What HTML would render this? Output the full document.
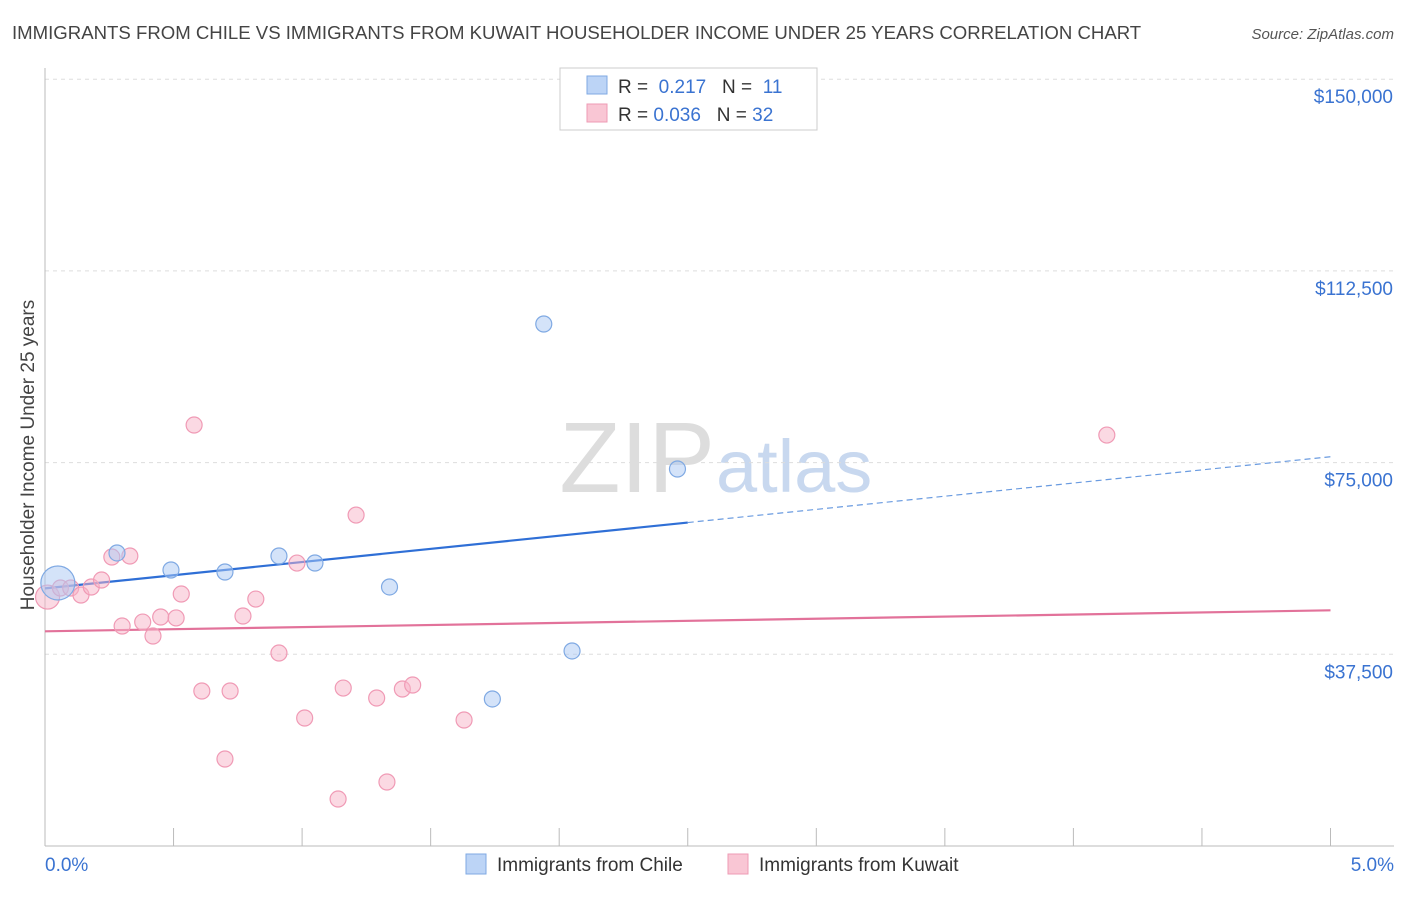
<!DOCTYPE html>
<html><head><meta charset="utf-8"><style>
body{margin:0;background:#fff;font-family:"Liberation Sans",sans-serif;}
svg text{font-family:"Liberation Sans",sans-serif;}
</style></head><body>
<svg id="chart" width="1406" height="892">
<text x="12" y="39" font-size="18.6" fill="#444">IMMIGRANTS FROM CHILE VS IMMIGRANTS FROM KUWAIT HOUSEHOLDER INCOME UNDER 25 YEARS CORRELATION CHART</text>
<text x="1394" y="39" font-size="15" fill="#555" font-style="italic" text-anchor="end">Source: ZipAtlas.com</text>
<text x="715" y="492" font-size="100" fill="#ddd" text-anchor="end" font-family="Liberation Serif">ZIP</text>
<text x="716" y="492" font-size="74" fill="#c8d8ef">atlas</text>
<g id="grid"></g><g id="axes"></g><g id="lines"></g><g id="pts"></g>
<text transform="translate(34,455) rotate(-90)" font-size="19" fill="#444" text-anchor="middle">Householder Income Under 25 years</text>
<g>
<rect x="560" y="68" width="257" height="62" fill="#fff" stroke="#ccc"/>
<rect x="587" y="76" width="20" height="18" fill="#bcd4f6" stroke="#7fa9e3"/>
<rect x="587" y="104" width="20" height="18" fill="#f9c6d4" stroke="#ee9bb4"/>
<text x="618" y="93" font-size="19" fill="#333">R = <tspan fill="#3a73d1">&#160;0.217</tspan>&#160;&#160;&#160;N = <tspan fill="#3a73d1">&#160;11</tspan></text>
<text x="618" y="121" font-size="19" fill="#333">R = <tspan fill="#3a73d1">0.036</tspan>&#160;&#160;&#160;N = <tspan fill="#3a73d1">32</tspan></text>
</g>
<g>
<rect x="466" y="854" width="20" height="20" fill="#bcd4f6" stroke="#7fa9e3"/>
<text x="497" y="871" font-size="19" fill="#333">Immigrants from Chile</text>
<rect x="728" y="854" width="20" height="20" fill="#f9c6d4" stroke="#ee9bb4"/>
<text x="759" y="871" font-size="19" fill="#333">Immigrants from Kuwait</text>
</g>
</svg>
<script>
const yTicks=[37500,75000,112500,150000];
const yTickLabels=["$37,500","$75,000","$112,500","$150,000"];
const xTickLabels=["0.0%","5.0%"];
const chileX=[0.05,0.28,0.49,0.70,0.91,1.05,1.34,1.94,2.05,2.46,1.74];
const chileY=[51450,57320,53990,53600,56730,55360,50670,102110,38150,73750,28760];
const kuwaitX=[0.01,0.06,0.10,0.14,0.18,0.22,0.26,0.30,0.33,0.38,0.42,0.45,0.51,0.53,0.58,0.61,0.70,0.72,0.77,0.82,0.91,0.98,1.01,1.14,1.16,1.21,1.29,1.33,1.39,1.43,1.63,4.13];
const kuwaitY=[48700,50470,50470,49100,50660,52030,56530,43030,56730,43810,41080,44800,44610,49290,82350,30320,17020,30320,44990,48310,37750,55350,25040,9190,30900,64740,28950,12520,30710,31490,24650,80390];
const chileTrend=[50400,76150];
const kuwaitTrend=[42000,46100];
const NS="http://www.w3.org/2000/svg";
const xs=v=>45+v*257.1, ys=v=>846-v/37500*191.7;
function mk(tag,at,parent){const e=document.createElementNS(NS,tag);for(const k in at)e.setAttribute(k,at[k]);document.getElementById(parent).appendChild(e);return e;}
yTicks.forEach((t,i)=>{
 const g=mk('line',{x1:45,x2:1394,y1:ys(t),y2:ys(t),stroke:'#ddd','stroke-dasharray':'4,4'},'grid');
 
 
 const l=mk('text',{x:1393,y:ys(t)+24,'font-size':19,fill:'#3a73d1','text-anchor':'end'},'axes');
 l.textContent=yTickLabels[i];
 
 
});
const ax=mk('line',{x1:45,x2:1394,y1:846,y2:846,stroke:'#bbb'},'axes');


const ay=mk('line',{x1:45,x2:45,y1:68,y2:846,stroke:'#bbb'},'axes');


for(let i=0;i<=10;i++){
 const t=mk('line',{x1:xs(i*0.5),x2:xs(i*0.5),y1:828,y2:846,stroke:'#bbb'},'axes');
 
 
}
[[0,'start',45],[5,'end',1394]].forEach((d,i)=>{
 const t=mk('text',{x:d[2],y:871,'font-size':19,fill:'#3a73d1','text-anchor':d[1]},'axes');
 t.textContent=xTickLabels[i];
 
 
});
const cAt=v=>chileTrend[0]+(chileTrend[1]-chileTrend[0])*v/5;
const kAt=v=>kuwaitTrend[0]+(kuwaitTrend[1]-kuwaitTrend[0])*v/5;
let e=mk('line',{x1:xs(0),y1:ys(cAt(0)),x2:xs(2.5),y2:ys(cAt(2.5)),stroke:'#2f6fd6','stroke-width':2.2},'lines');


e=mk('line',{x1:xs(2.5),y1:ys(cAt(2.5)),x2:xs(5),y2:ys(cAt(5)),stroke:'#6a9be0','stroke-width':1.2,'stroke-dasharray':'6,4'},'lines');


e=mk('line',{x1:xs(0),y1:ys(kAt(0)),x2:xs(5),y2:ys(kAt(5)),stroke:'#e2729a','stroke-width':2.2},'lines');


kuwaitX.forEach((x,i)=>{
 const c=mk('circle',{cx:xs(x),cy:ys(kuwaitY[i]),r:i==0?12:8,fill:'rgba(247,180,200,0.5)',stroke:'#f09ab5','stroke-width':1.2},'pts');
 
 
});
chileX.forEach((x,i)=>{
 const c=mk('circle',{cx:xs(x),cy:ys(chileY[i]),r:i==0?17:8,fill:'rgba(170,200,243,0.5)',stroke:'#7fa9e3','stroke-width':1.2},'pts');
 
 
});
</script>
</body></html>
